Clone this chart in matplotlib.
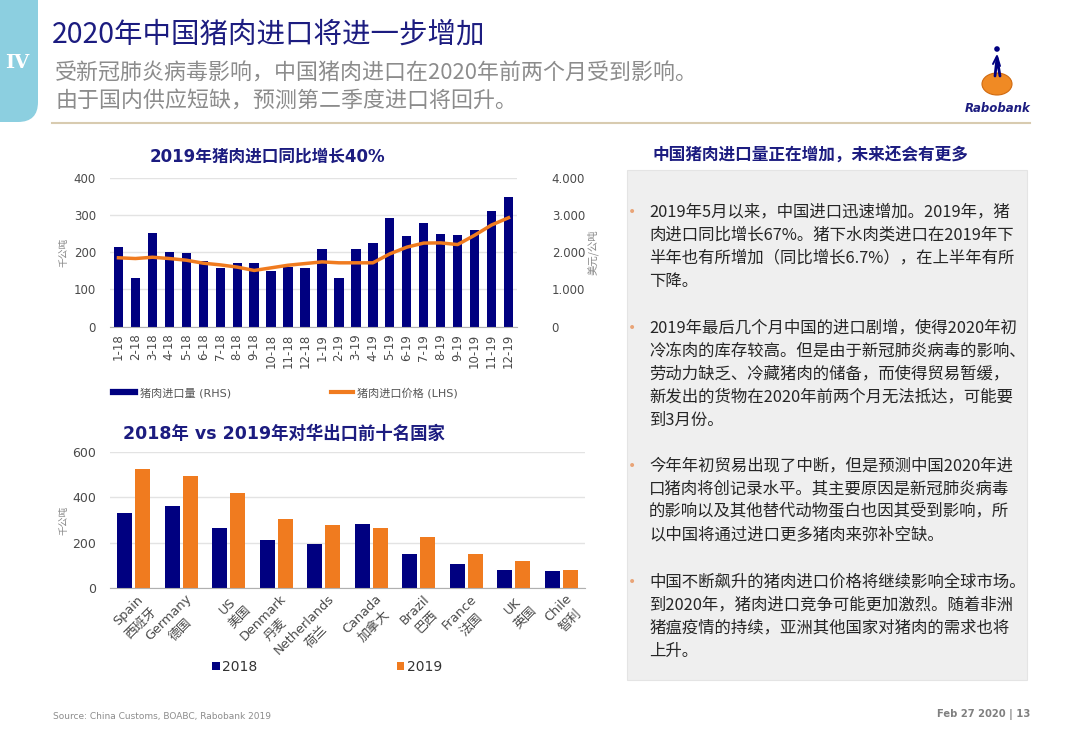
import matplotlib
matplotlib.use('Agg')
import matplotlib.pyplot as plt
import numpy as np
from matplotlib.patches import FancyBboxPatch, Rectangle, Circle, Ellipse
from matplotlib.lines import Line2D
from matplotlib.ticker import FuncFormatter

plt.rcParams['font.family'] = ['DejaVu Sans', 'Noto Sans CJK SC']
CJK = ['Noto Sans CJK SC', 'DejaVu Sans']

# ---- data ----
months = ['1-18', '2-18', '3-18', '4-18', '5-18', '6-18', '7-18', '8-18', '9-18', '10-18', '11-18', '12-18',
          '1-19', '2-19', '3-19', '4-19', '5-19', '6-19', '7-19', '8-19', '9-19', '10-19', '11-19', '12-19']
# 千公吨
volume = [213, 132, 252, 201, 197, 176, 158, 170, 171, 149, 161, 158,
          208, 132, 208, 225, 293, 243, 278, 249, 246, 260, 311, 348]
# 美元/公吨
price = [1850, 1830, 1865, 1830, 1785, 1705, 1660, 1600, 1510, 1580, 1650, 1695,
         1740, 1715, 1715, 1715, 1955, 2135, 2245, 2250, 2205, 2455, 2730, 2925]

countries_en = ['Spain', 'Germany', 'US', 'Denmark', 'Netherlands', 'Canada', 'Brazil', 'France', 'UK', 'Chile']
countries_cn = ['西班牙', '德国', '美国', '丹麦', '荷兰', '加拿大', '巴西', '法国', '英国', '智利']
exports_2018 = [329, 361, 263, 213, 192, 280, 151, 106, 78, 73]
exports_2019 = [525, 493, 417, 305, 279, 264, 223, 148, 117, 81]

bullets = [
    ['2019年5月以来，中国进口迅速增加。2019年，猪',
     '肉进口同比增长67%。猪下水肉类进口在2019年下',
     '半年也有所增加（同比增长6.7%），在上半年有所',
     '下降。'],
    ['2019年最后几个月中国的进口剧增，使得2020年初',
     '冷冻肉的库存较高。但是由于新冠肺炎病毒的影响、',
     '劳动力缺乏、冷藏猪肉的储备，而使得贸易暂缓，',
     '新发出的货物在2020年前两个月无法抵达，可能要',
     '到3月份。'],
    ['今年年初贸易出现了中断，但是预测中国2020年进',
     '口猪肉将创记录水平。其主要原因是新冠肺炎病毒',
     '的影响以及其他替代动物蛋白也因其受到影响，所',
     '以中国将通过进口更多猪肉来弥补空缺。'],
    ['中国不断飙升的猪肉进口价格将继续影响全球市场。',
     '到2020年，猪肉进口竞争可能更加激烈。随着非洲',
     '猪瘟疫情的持续，亚洲其他国家对猪肉的需求也将',
     '上升。'],
]
bullet_tops = [212, 328, 466, 582]

navy = '#000080'
orange = '#f07b1f'
title_navy = '#1c1c80'
tick_col = '#4a4a4a'

W, H = 1080, 748
fig = plt.figure(figsize=(10.8, 7.48), dpi=100)

# background layer in pixel coordinates
bg = fig.add_axes([0, 0, 1, 1], zorder=0)
bg.set_xlim(0, W)
bg.set_ylim(H, 0)
bg.axis('off')

# left tab
bg.add_patch(FancyBboxPatch((-30, -30), 68, 152, boxstyle='round,pad=0,rounding_size=20',
                            fc='#8ccfe0', ec='none'))
bg.text(17, 63, 'IV', color='white', fontsize=14, fontweight='bold', ha='center', va='center',
        family='DejaVu Serif')

# heading
bg.text(52, 35, '2020年中国猪肉进口将进一步增加', color=title_navy, fontsize=20.5, va='center', family=CJK)
bg.text(55, 74, '受新冠肺炎病毒影响，中国猪肉进口在2020年前两个月受到影响。', color='#8c8c8c',
        fontsize=15.8, va='center', family=CJK)
bg.text(55, 101, '由于国内供应短缺，预测第二季度进口将回升。', color='#8c8c8c',
        fontsize=15.8, va='center', family=CJK)
bg.plot([52, 1030], [123, 123], color='#d8cbb0', lw=1.5)

# Rabobank logo
bg.add_patch(Ellipse((997, 84), 30, 22, fc='#f08a24', ec='#d06a10', lw=0.8))
bg.plot([995, 997, 1000], [76, 58, 76], color=navy, lw=2.0, solid_capstyle='round')
bg.plot([993, 997, 1000], [64, 56, 66], color=navy, lw=1.4, solid_capstyle='round')
bg.add_patch(Circle((997, 49), 2.8, fc=navy, ec='none'))
bg.text(998, 108, 'Rabobank', color=title_navy, fontsize=8.5, fontweight='bold', style='italic',
        ha='center', va='center')

# right panel
bg.text(652, 156, '中国猪肉进口量正在增加，未来还会有更多', color=title_navy, fontsize=12,
        fontweight='bold', va='center', family=CJK)
bg.add_patch(Rectangle((627, 170), 400, 510, fc='#efefef', ec='#e4e4e4', lw=0.8))
for top, lines in zip(bullet_tops, bullets):
    bg.text(632, top, '•', color='#e9a477', fontsize=10, ha='center', va='center')
    for i, line in enumerate(lines):
        bg.text(649, top + i * 23, line, color='#262626', fontsize=11.8, va='center', family=CJK)

# footer
bg.text(53, 716, 'Source: China Customs, BOABC, Rabobank 2019', color='#8c8c8c', fontsize=6.5, va='center')
bg.text(1030, 714, 'Feb 27 2020 | 13', color='#808080', fontsize=7.2, fontweight='bold', ha='right', va='center')


def px_axes(left, top, right, bottom):
    return fig.add_axes([left / W, 1 - bottom / H, (right - left) / W, (bottom - top) / H], zorder=2)


def clean(ax):
    for s in ['top', 'right', 'left']:
        ax.spines[s].set_visible(False)
    ax.spines['bottom'].set_color('#b0b0b0')
    ax.tick_params(length=0, colors=tick_col)
    ax.grid(axis='y', color='#e3e3e3', lw=1)
    ax.set_axisbelow(True)
    ax.patch.set_visible(False)


# ---- top chart ----
ax = px_axes(110, 177.7, 517, 326.7)
x = np.arange(len(months))
bars = ax.bar(x, volume, width=0.55, color=navy, zorder=2)
ax.set_xlim(-0.5, len(months) - 0.5)
ax.set_ylim(0, 400)
ax.set_yticks([0, 100, 200, 300, 400])
ax.set_xticks(x)
ax.set_xticklabels(months, rotation=90, fontsize=8.5)
ax.tick_params(axis='y', labelsize=8.5, pad=10)
ax.tick_params(axis='x', pad=5)
clean(ax)

ax2 = ax.twinx()
ln, = ax2.plot(x, price, color=orange, lw=2.5, zorder=3)
ax2.set_ylim(0, 4000)
ax2.set_yticks([0, 1000, 2000, 3000, 4000])
ax2.yaxis.set_major_formatter(FuncFormatter(lambda v, p: '0' if v == 0 else f'{int(v) // 1000}.{int(v) % 1000:03d}'))
ax2.tick_params(length=0, colors=tick_col, labelsize=8.5, pad=25)
for s in ax2.spines.values():
    s.set_visible(False)
ax2.patch.set_visible(False)

bg.text(267, 157, '2019年猪肉进口同比增长40%', color=title_navy, fontsize=12, fontweight='bold',
        ha='center', va='center')
bg.text(63, 252, '千公吨', color='#888888', fontsize=7, rotation=90, ha='center', va='center', family=CJK)
bg.text(593, 252, '美元/公吨', color='#888888', fontsize=7.5, rotation=90, ha='center', va='center', family=CJK)

ax.legend([Line2D([], [], color=navy, lw=4.5), Line2D([], [], color=orange, lw=3)],
          ['猪肉进口量 (RHS)', '猪肉进口价格 (LHS)'], ncol=2, frameon=False,
          loc='center left', bbox_to_anchor=((113 - 110) / 407, -0.445),
          fontsize=8, labelcolor='#555555', handlelength=2.0, handletextpad=0.4,
          columnspacing=9.0, borderaxespad=0, borderpad=0)

# ---- bottom chart ----
bx = px_axes(110, 451.7, 585, 588)
g = np.arange(len(countries_en))
b18 = bx.bar(g - 0.19, exports_2018, width=0.32, color=navy, zorder=2)
b19 = bx.bar(g + 0.19, exports_2019, width=0.32, color=orange, zorder=2)
bx.set_xlim(-0.5, len(countries_en) - 0.5)
bx.set_ylim(0, 600)
bx.set_yticks([0, 200, 400, 600])
bx.set_xticks(g + 0.08)
bx.set_xticklabels([f'{e}\n{c}' for e, c in zip(countries_en, countries_cn)], rotation=45,
                   ha='right', va='top', rotation_mode='anchor', multialignment='center',
                   fontsize=9.3, linespacing=1.4)
bx.tick_params(axis='y', labelsize=9, pad=10)
bx.tick_params(axis='x', pad=3)
clean(bx)

bg.text(284, 434, '2018年 vs 2019年对华出口前十名国家', color=title_navy, fontsize=12.5,
        fontweight='bold', ha='center', va='center')
bg.text(63, 520, '千公吨', color='#888888', fontsize=7, rotation=90, ha='center', va='center', family=CJK)

bx.legend([b18, b19], ['2018', '2019'], ncol=2, frameon=False, loc='center left',
          bbox_to_anchor=((212 - 110) / 475, -0.58), fontsize=10, labelcolor='#333333',
          handlelength=0.55, handleheight=0.55, handletextpad=0.2, columnspacing=10.0,
          borderaxespad=0, borderpad=0)

fig.savefig('out.png', dpi=100)
